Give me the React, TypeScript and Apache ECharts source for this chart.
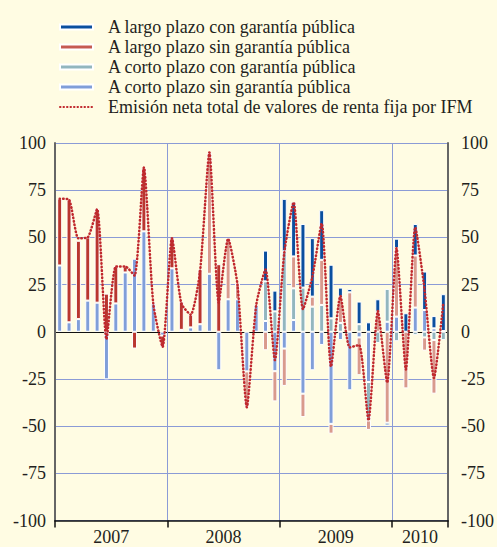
import React, { useEffect, useRef } from 'react';
import * as echarts from 'echarts';

const yearLabels = ['2007', '2008', '2009', '2010'];
const monthsPerYear = [12, 12, 12, 6];

const nameLargoCon = 'A largo plazo con garantía pública';
const nameLargoSin = 'A largo plazo sin garantía pública';
const nameCortoCon = 'A corto plazo con garantía pública';
const nameCortoSin = 'A corto plazo sin garantía pública';
const nameTotal = 'Emisión neta total de valores de renta fija por IFM';

const largoCon = [
  null, null, null, null, null, null, null, null, null, null, null, null,
  null, null, null, null, null, null, null, null, null, null, 16.3, 11,
  27.8, 28.7, 33.7, 31, 26.3, 28.4, 4.8, 1.8, 12, 5, 6.6, -1.4,
  5, 9.8, 16.7, 20.4, 6.5, 19.5,
];
const largoSin = [
  35.5, 65, 41.5, 33.5, 49.7, 20.2, 19.6, 3.2, -8.9, 33.7, 0.5, -6,
  16, 15, 6.6, 29, 64.2, 35.8, 32.1, 8.5, -19, null, -9.8, -16,
  -19.8, 16.9, -12.4, 5.3, 23.9, -5.2, 14, 20.9, -20, -5, 10.6, -48.2,
  36.3, -30, 27.6, -7, -28.4, null,
];
const cortoCon = [
  null, null, null, null, null, null, null, null, null, null, null, null,
  null, null, null, null, null, null, null, null, null, null, 21, 10.8,
  42.6, 16.8, 23.4, 13.3, 14.2, 7.1, 4.6, null, 4, -20.4, -6, 17.4,
  -5, null, -1.8, -3, -4.4, -4.4,
];
const cortoSin = [
  35.1, 5, 6.7, 16.5, 15.4, -25.2, 15, 31.4, 38.7, 53.2, 14.9, -2,
  33.6, 1, 2.3, 4, 30.7, -20.4, 17.2, 17.2, -21, 14.2, 5.7, -20.9,
  -8.9, 6.2, -32.8, -20.4, -7, -48.8, -4.4, -31, -3, -26.6, null, 5.3,
  8, null, 12.8, 11.5, 1.8, 0.4,
];
const emisionNeta = [
  70.5, 70, 49.5, 50, 65, -4, 34.6, 34.6, 29.8, 87, 15, -8,
  49.6, 15, 9, 32, 95, 15.4, 49.3, 25, -40, 14, 33, -15,
  41.7, 68.6, 12, 29, 57.4, -18.5, 19, -8.3, -7, -47, 11, -27,
  44.3, -20, 55.3, 22, -24.5, 15.5,
];

const FONT = '"Liberation Serif", "DejaVu Serif", "Times New Roman", serif';
const BG = '#fffce3';
const GRID = '#8b9bd6';
const C_LARGO_CON = '#0a4f9f';
const C_LARGO_SIN_DARK = '#b9362f';
const C_LARGO_SIN_LIGHT = '#d99a8d';
const C_CORTO_CON = '#92b6bf';
const C_CORTO_SIN = '#809ed9';
const C_LINE = '#c0282d';

export default function App() {
  const ref = useRef<HTMLDivElement>(null);

  useEffect(() => {
    if (!ref.current) return;
    const chart = echarts.init(ref.current, undefined, { renderer: 'svg' });

    const categories: string[] = [];
    const yearCenters: Record<number, string> = {};
    let start = 0;
    yearLabels.forEach((y, k) => {
      for (let m = 0; m < monthsPerYear[k]; m++) categories.push(y + '-' + (m + 1));
      yearCenters[start + monthsPerYear[k] / 2] = y;
      start += monthsPerYear[k];
    });
    const yearStarts = new Set<number>();
    let acc = 0;
    monthsPerYear.forEach((n) => { yearStarts.add(acc); acc += n; });

    const splitColors = [GRID, GRID, GRID, GRID, '#111', GRID, GRID, GRID, GRID];

    const barBase = {
      type: 'bar' as const,
      stack: 'total',
      barWidth: 5,
      xAxisIndex: 0,
      yAxisIndex: 0,
    };

    chart.setOption({
      animation: false,
      backgroundColor: BG,
      textStyle: { fontFamily: FONT },
      legend: {
        orient: 'vertical',
        left: 54,
        top: 13,
        itemWidth: 33,
        itemHeight: 5,
        itemGap: 2,
        textStyle: {
          fontFamily: FONT,
          fontSize: 18,
          lineHeight: 18,
          color: '#231f20',
          padding: [0, 0, 0, 10],
        },
        data: [
          { name: nameLargoCon, icon: 'rect' },
          { name: nameLargoSin, icon: 'rect', itemStyle: { color: '#c65a52' } },
          { name: nameCortoCon, icon: 'rect' },
          { name: nameCortoSin, icon: 'rect' },
          { name: nameTotal, itemStyle: { opacity: 0 } },
        ],
      },
      grid: { left: 55, right: 41, top: 143, bottom: 26.5 },
      xAxis: [
        {
          type: 'category',
          data: categories,
          boundaryGap: true,
          position: 'bottom',
          axisLine: { onZero: false, lineStyle: { color: '#111', width: 1.5 } },
          axisTick: {
            show: true,
            length: 7,
            interval: (i: number) => yearStarts.has(i),
            lineStyle: { color: '#111', width: 1.5 },
          },
          axisLabel: { show: false },
          splitLine: {
            show: true,
            interval: (i: number) => yearStarts.has(i) && i > 0,
            lineStyle: { color: GRID, width: 1 },
          },
        },
        {
          type: 'value',
          min: 0,
          max: categories.length,
          interval: 3,
          position: 'bottom',
          axisLine: { show: false },
          axisTick: { show: false },
          splitLine: { show: false },
          axisLabel: {
            margin: 7,
            fontFamily: FONT,
            fontSize: 18,
            color: '#231f20',
            showMinLabel: true,
            showMaxLabel: true,
            formatter: (v: number) => yearCenters[v] ?? '',
          },
        },
      ],
      yAxis: [
        {
          type: 'value',
          min: -100,
          max: 100,
          interval: 25,
          position: 'left',
          axisLine: { show: true, onZero: false, lineStyle: { color: '#666', width: 2 } },
          axisTick: { show: false },
          axisLabel: { fontFamily: FONT, fontSize: 18, color: '#231f20', margin: 9 },
          splitLine: { show: true, lineStyle: { color: splitColors, width: 1 } },
        },
        {
          type: 'value',
          min: -100,
          max: 100,
          interval: 25,
          position: 'right',
          axisLine: { show: true, onZero: false, lineStyle: { color: '#666', width: 2 } },
          axisTick: { show: false },
          axisLabel: { fontFamily: FONT, fontSize: 18, color: '#231f20', margin: 13 },
          splitLine: { show: false },
        },
      ],
      series: [
        {
          ...barBase,
          name: nameCortoSin,
          data: cortoSin,
          itemStyle: { color: C_CORTO_SIN, borderColor: '#ffffff', borderWidth: 1 },
        },
        {
          ...barBase,
          name: nameCortoCon,
          data: cortoCon,
          itemStyle: { color: C_CORTO_CON, borderColor: '#ffffff', borderWidth: 1 },
        },
        {
          ...barBase,
          name: nameLargoSin,
          data: largoSin,
          itemStyle: {
            color: (p: any) => (p.dataIndex <= 15 || p.dataIndex === 17 ? C_LARGO_SIN_DARK : C_LARGO_SIN_LIGHT),
            borderColor: '#ffffff',
            borderWidth: 1,
          },
        },
        {
          ...barBase,
          name: nameLargoCon,
          data: largoCon,
          itemStyle: { color: C_LARGO_CON, borderColor: '#ffffff', borderWidth: 1 },
        },
        {
          type: 'line',
          name: nameTotal,
          data: emisionNeta,
          xAxisIndex: 0,
          yAxisIndex: 0,
          symbol: 'none',
          smooth: 0.2,
          z: 5,
          itemStyle: { color: C_LINE },
          lineStyle: { color: C_LINE, width: 2.5, type: [0.5, 3], cap: 'round' },
        },
      ],
    });

    return () => chart.dispose();
  }, []);

  return (
    <div
      ref={ref}
      style={{ position: 'fixed', left: 0, top: 0, width: 497, height: 547 }}
    />
  );
}
